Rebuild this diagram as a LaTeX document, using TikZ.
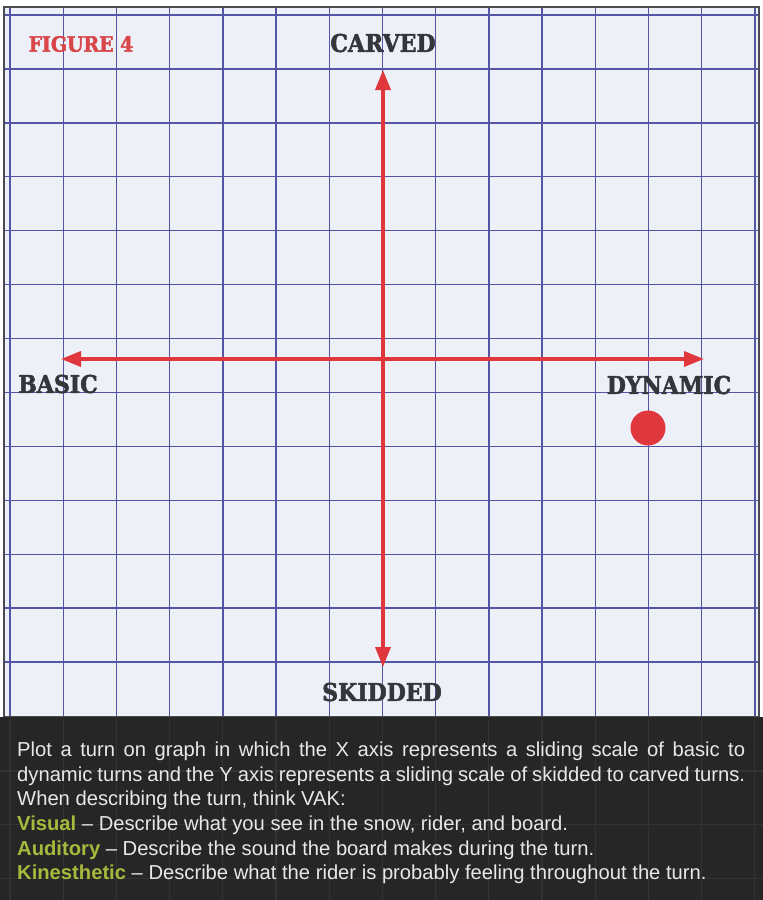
\documentclass[tikz,border=0pt]{standalone}
\usepackage{fontspec}
\setmainfont{Liberation Sans}
\newfontfamily\slabfont{DejaVu Serif Bold}[FakeStretch=0.9, FakeBold=2]
\newfontfamily\bodyfont{Liberation Sans}[Ligatures=TeX]
\usetikzlibrary{arrows.meta}
\definecolor{paper}{HTML}{EEF0F8}
\definecolor{gridcol}{HTML}{5555A6}
\definecolor{framecol}{HTML}{4A4A50}
\definecolor{redax}{HTML}{E0373D}
\definecolor{figred}{HTML}{D9464A}
\definecolor{labelgray}{HTML}{34363C}
\definecolor{darkbox}{HTML}{262626}
\definecolor{darkgrid}{HTML}{333333}
\definecolor{bodytext}{HTML}{E8E8E8}
\definecolor{vakgreen}{HTML}{A7B83C}
\tikzset{
  gridline/.style={draw=gridcol, line width=1.4pt},
  darkgridline/.style={draw=darkgrid, line width=1.2pt},
  axisline/.style={draw=redax, line width=3.6pt, {Triangle[length=20pt,width=15pt]}-{Triangle[length=20pt,width=15pt]}},
  axislabel/.style={inner sep=0pt, text=labelgray, font=\slabfont\fontsize{24.5}{28}\selectfont},
  bodyline/.style={inner sep=0pt, anchor=base west, text=bodytext, font=\bodyfont\fontsize{20.2}{24}\selectfont},
}
\newcommand{\vak}[1]{\textcolor{vakgreen}{\bfseries #1}}
\begin{document}
\begin{tikzpicture}[x=1pt,y=-1pt]
\useasboundingbox (0,0) rectangle (763,900);
\fill[white] (0,0) rectangle (763,900);
\fill[paper] (4,7) rectangle (759,717);
\foreach \k in {0,...,14} \draw[gridline] ({10+53.2*\k},7) -- ({10+53.2*\k},717);
\foreach \k in {0,...,12} \draw[gridline] (4,{15+53.92*\k}) -- (759,{15+53.92*\k});
\draw[draw=framecol, line width=1.8pt] (4,7) rectangle (759,717);
\fill[darkbox] (0,717) rectangle (763,900);
\foreach \k in {0,...,14} \draw[darkgridline] ({10+53.2*\k},719) -- ({10+53.2*\k},900);
\foreach \k in {1,2,3} \draw[darkgridline] (0,{717+53.92*\k}) -- (763,{717+53.92*\k});
% axes
\coordinate (top) at (383,70);
\coordinate (bottom) at (383,667);
\coordinate (left) at (61,359);
\coordinate (right) at (704,359);
\draw[axisline] (bottom) -- (top);
\draw[axisline] (left) -- (right);
\node[circle, fill=redax, minimum size=35pt, inner sep=0pt] (dot) at (648,428) {};
% labels
\node[inner sep=0pt, text=figred, font=\slabfont\fontsize{21}{24}\selectfont] (fig) at (81,44) {FIGURE 4};
\node[axislabel] (carved) at (383,43) {CARVED};
\node[axislabel] (skidded) at (382,692) {SKIDDED};
\node[axislabel] (basic) at (58,384) {BASIC};
\node[axislabel] (dynamic) at (669,385) {DYNAMIC};
% text
\node[bodyline] (l1) at (17,756) {\makebox[728pt][s]{Plot a turn on graph in which the X axis represents a sliding scale of basic to}};
\node[bodyline] (l2) at (17,781) {\makebox[728pt][s]{dynamic turns and the Y axis represents a sliding scale of skidded to carved turns.}};
\node[bodyline] (l3) at (17,805) {When describing the turn, think VAK:};
\node[bodyline] (l4) at (17,830) {\vak{Visual} – Describe what you see in the snow, rider, and board.};
\node[bodyline] (l5) at (17,855) {\vak{Auditory} – Describe the sound the board makes during the turn.};
\node[bodyline] (l6) at (17,879) {\vak{Kinesthetic} – Describe what the rider is probably feeling throughout the turn.};
\end{tikzpicture}
\end{document}
